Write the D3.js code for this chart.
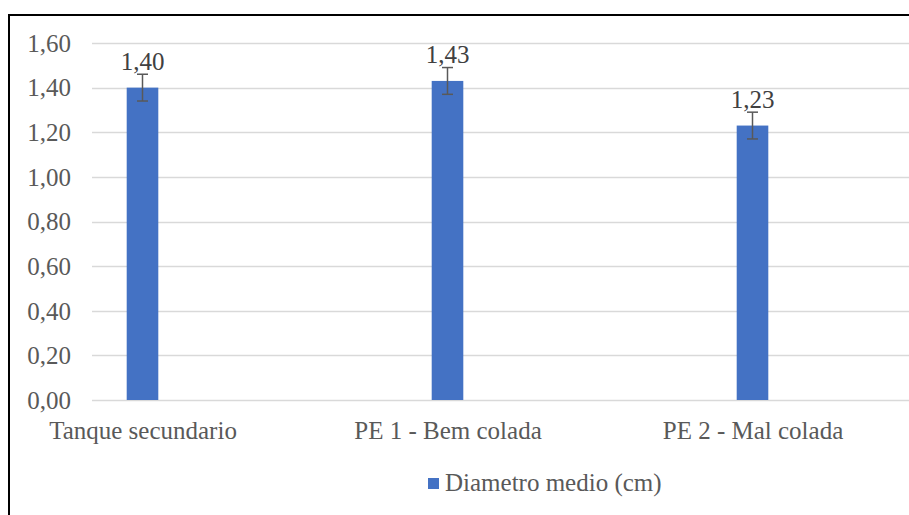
<!DOCTYPE html>
<html>
<head>
<meta charset="utf-8">
<script src="https://cdn.jsdelivr.net/npm/d3@7"></script>
<style>
  html, body { margin: 0; padding: 0; background: #fff; }
  svg { display: block; }
</style>
</head>
<body>
<svg id="chart" width="909" height="515"></svg>
<script>
const categories = ["Tanque secundario", "PE 1 - Bem colada", "PE 2 - Mal colada"];
const values = [1.40, 1.43, 1.23];
const errors = [0.06, 0.06, 0.06];
const valueLabels = ["1,40", "1,43", "1,23"];
const yTicks = [0, 0.2, 0.4, 0.6, 0.8, 1.0, 1.2, 1.4, 1.6];
const seriesName = "Diametro medio (cm)";

const svg = d3.select("#chart");
const font = "'Liberation Serif', 'Times New Roman', serif";
const textCol = "#595959";

// chart border
svg.append("rect").attr("x", 9).attr("y", 15).attr("width", 920).attr("height", 520)
  .attr("fill", "none").attr("stroke", "#000").attr("stroke-width", 2);

const y = d3.scaleLinear().domain([0, 1.6]).range([400, 43]);
const x = d3.scalePoint().domain(categories).range([142.5, 752.5]);
const barW = 31.6;
const gridX0 = 92, gridX1 = 920;

// gridlines
svg.append("g").selectAll("line").data(yTicks).join("line")
  .attr("x1", gridX0).attr("x2", gridX1)
  .attr("y1", d => Math.round(y(d)) + 0.5).attr("y2", d => Math.round(y(d)) + 0.5)
  .attr("stroke", "#d9d9d9").attr("stroke-width", 1.5);

// y axis labels
const fmt = d => d3.format(".2f")(d).replace(".", ",");
const yAxis = d3.axisLeft(y).tickValues(yTicks).tickFormat(fmt).tickSize(0).tickPadding(0);
const gy = svg.append("g").attr("transform", "translate(71,0)").call(yAxis);
gy.select(".domain").remove();
gy.selectAll("text").attr("font-family", font).attr("font-size", 25).attr("fill", textCol)
  .attr("dy", "0.33em");

// x axis labels
const xAxis = d3.axisBottom(x).tickSize(0).tickPadding(0);
const gx = svg.append("g").attr("transform", "translate(0,439)").call(xAxis);
gx.select(".domain").remove();
gx.selectAll("text").attr("font-family", font).attr("font-size", 25).attr("fill", textCol)
  .attr("dy", 0).attr("y", 0);

// bars
const data = categories.map((c, i) => ({ c, v: values[i], e: errors[i], l: valueLabels[i] }));
svg.append("g").selectAll("rect").data(data).join("rect")
  .attr("x", d => x(d.c) - barW / 2).attr("width", barW)
  .attr("y", d => y(d.v)).attr("height", d => y(0) - y(d.v))
  .attr("fill", "#4472c4");

// error bars
const eg = svg.append("g").attr("stroke", "#595959").attr("stroke-width", 1.5);
data.forEach(d => {
  const cx = x(d.c);
  eg.append("line").attr("x1", cx).attr("x2", cx).attr("y1", y(d.v + d.e)).attr("y2", y(d.v - d.e));
  eg.append("line").attr("x1", cx - 5.5).attr("x2", cx + 5.5).attr("y1", y(d.v + d.e)).attr("y2", y(d.v + d.e));
  eg.append("line").attr("x1", cx - 5.5).attr("x2", cx + 5.5).attr("y1", y(d.v - d.e)).attr("y2", y(d.v - d.e));
});

// value labels
svg.append("g").selectAll("text").data(data).join("text")
  .attr("x", d => x(d.c)).attr("y", d => y(d.v) - 18)
  .attr("text-anchor", "middle").attr("font-family", font).attr("font-size", 25)
  .attr("fill", "#404040").text(d => d.l);

// legend
svg.append("rect").attr("x", 428).attr("y", 478).attr("width", 11).attr("height", 11).attr("fill", "#4472c4");
svg.append("text").attr("x", 445).attr("y", 491).attr("font-family", font).attr("font-size", 25)
  .attr("fill", textCol).text(seriesName);
</script>
</body>
</html>
